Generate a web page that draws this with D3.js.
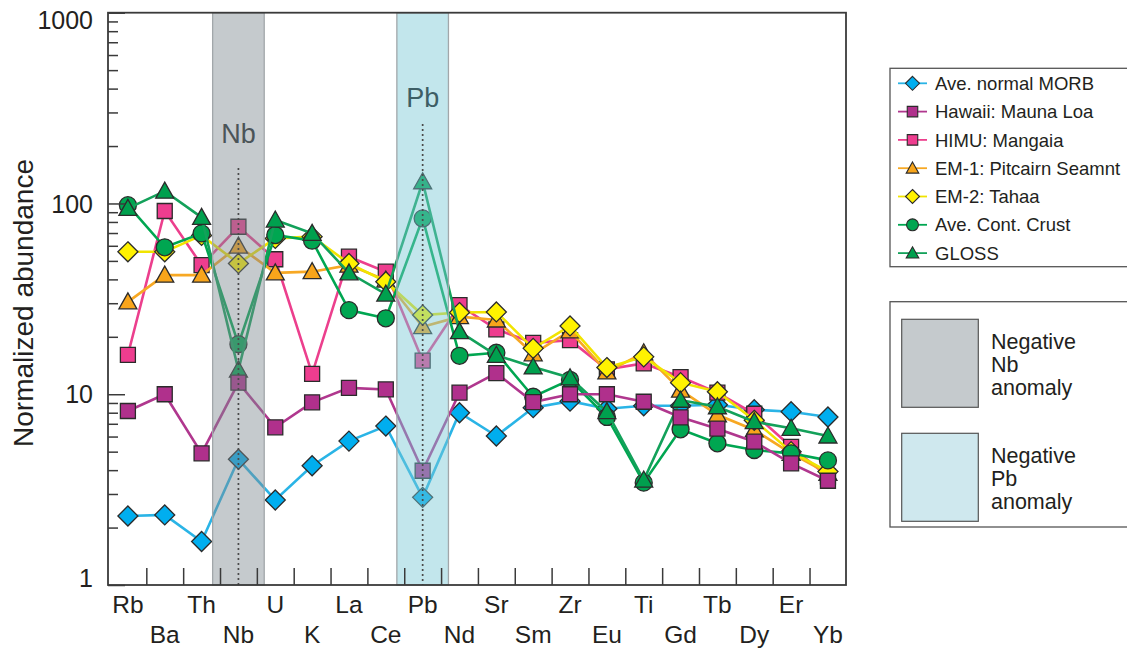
<!DOCTYPE html>
<html>
<head>
<meta charset="utf-8">
<script src="https://cdn.jsdelivr.net/npm/d3@7"></script>
<style>
  body { margin: 0; background: #fff; }
  svg { font-family: "Liberation Sans", Arial, Helvetica, sans-serif; }
</style>
</head>
<body>
<script>
// element order along x
const elements = ["Rb","Ba","Th","Nb","U","K","La","Ce","Pb","Nd","Sr","Sm","Zr","Eu","Ti","Gd","Tb","Dy","Er","Yb"];

// normalized abundances
const morb      = [2.3, 2.33, 1.69, 4.56, 2.79, 4.22, 5.68, 6.81, 2.88, 8.0, 6.04, 8.5, 9.2, 8.4, 8.7, 8.7, 8.8, 8.3, 8.1, 7.6];
const maunaLoa  = [8.17, 10.0, 4.9, 11.5, 6.71, 9.07, 10.8, 10.6, 3.97, 10.2, 12.9, 9.1, 10.0, 10.0, 9.13, 7.57, 6.6, 5.64, 4.34, 3.52];
const mangaia   = [16.1, 91.3, 47.5, 75.5, 51, 12.8, 52.6, 43.9, 15.0, 29.3, 21.9, 18.6, 19.2, 13.5, 14.5, 12.3, 10.2, 7.9, 5.3, 3.7];
const pitcairn  = [30.5, 42.1, 42.1, 59.8, 43.3, 43.9, 47.5, 39.7, 22.6, 25.5, 24.5, 16.3, 21.5, 13.1, 16.5, 10.5, 7.8, 6.5, 4.9, 3.85];
const tahaa     = [55.8, 55.8, 68, 48.5, 65.6, 67, 48.5, 38.9, 26, 26.8, 27.0, 17.4, 22.8, 13.8, 15.7, 11.5, 10.3, 7.3, 5.0, 3.93];
const contCrust = [98, 58.9, 69.7, 18.3, 68.3, 63.8, 27.6, 25.0, 83.5, 15.9, 16.5, 9.7, 11.9, 7.6, 3.44, 6.55, 5.53, 5.1, 4.9, 4.5];
const gloss     = [94.3, 116, 84.6, 13.4, 81.9, 69.7, 43.3, 33.5, 130, 21.3, 16.0, 13.9, 12.2, 8.1, 3.55, 9.3, 8.6, 7.18, 6.63, 6.04];

const yMajor = [1, 10, 100, 1000];
const anomalies = ["Nb", "Pb"];

// series table (legend order)
const series = [
  { name: "Ave. normal MORB",        values: morb,      shape: "diamond",  fill: "#00aeef", line: "#2ab4e6" },
  { name: "Hawaii: Mauna Loa",       values: maunaLoa,  shape: "square",   fill: "#b0308c", line: "#b0378e" },
  { name: "HIMU: Mangaia",           values: mangaia,   shape: "square",   fill: "#ee3d8f", line: "#ec3f8d" },
  { name: "EM-1: Pitcairn Seamnt",   values: pitcairn,  shape: "triangle", fill: "#f8a51b", line: "#f7a823" },
  { name: "EM-2: Tahaa",             values: tahaa,     shape: "diamond",  fill: "#fff200", line: "#f1e400" },
  { name: "Ave. Cont. Crust",        values: contCrust, shape: "circle",   fill: "#00a651", line: "#00a651" },
  { name: "GLOSS",                   values: gloss,     shape: "triangle", fill: "#00a04e", line: "#13a15a" }
];
// drawing order (which marker sits on top)
const drawOrder = [0, 2, 3, 4, 5, 6, 1];

const W = 1127, H = 650;
const mLeft = 108, mRight = 846, mTop = 12.7, mBottom = 585;

const svg = d3.select("body").append("svg")
  .attr("width", W)
  .attr("height", H);

const x = d3.scaleLinear().domain([-0.54, 19.49]).range([mLeft, mRight]);
const y = d3.scaleLog().domain([1, 1000]).range([mBottom, mTop]);

function shape(type, s) {
  if (type === "diamond") return `M0,${-s}L${s},0L0,${s}L${-s},0Z`;
  if (type === "square") { const h = s * 0.75; return `M${-h},${-h}H${h}V${h}H${-h}Z`; }
  if (type === "triangle") { const h = s * 0.9; return `M0,${-h}L${h},${h * 0.78}L${-h},${h * 0.78}Z`; }
  return d3.symbol(d3.symbolCircle, Math.PI * (s * 0.85) * (s * 0.85))();
}

// lines + markers
const line = d3.line().x((d, i) => x(i)).y(d => y(d));
drawOrder.forEach(k => {
  const s = series[k];
  const g = svg.append("g");
  g.append("path")
    .attr("d", line(s.values))
    .attr("fill", "none")
    .attr("stroke", s.line)
    .attr("stroke-width", 2.6);
  g.selectAll("path.mk")
    .data(s.values)
    .enter()
    .append("path")
    .attr("class", "mk")
    .attr("transform", (d, i) => `translate(${x(i)},${y(d)})`)
    .attr("d", shape(s.shape, 10))
    .attr("fill", s.fill)
    .attr("stroke", "#2b2b2b")
    .attr("stroke-width", 1.3);
});

// anomaly bands, drawn over the markers so they tint them
const bandColor = { Nb: "rgb(126,137,144)", Pb: "rgb(119,199,213)" };
anomalies.forEach(el => {
  const i = elements.indexOf(el);
  svg.append("rect")
    .attr("x", x(i - 0.7))
    .attr("y", mTop)
    .attr("width", x(i + 0.7) - x(i - 0.7))
    .attr("height", mBottom - mTop)
    .attr("fill", bandColor[el])
    .attr("fill-opacity", 0.45)
    .attr("stroke", "#a2a7aa")
    .attr("stroke-width", 1.3);
});

// dotted guides + band labels
const bandLabel = { Nb: { y: 143, lineTop: 168, color: "#4b5458" }, Pb: { y: 106.7, lineTop: 124, color: "#3d5e65" } };
anomalies.forEach(el => {
  const i = elements.indexOf(el);
  svg.append("line")
    .attr("x1", x(i)).attr("x2", x(i))
    .attr("y1", bandLabel[el].lineTop).attr("y2", mBottom)
    .attr("stroke", "#4a4a4a")
    .attr("stroke-width", 1.7)
    .attr("stroke-dasharray", "2,3");
  svg.append("text")
    .attr("x", x(i))
    .attr("y", bandLabel[el].y)
    .attr("text-anchor", "middle")
    .attr("font-size", 27)
    .attr("fill", bandLabel[el].color)
    .text(el);
});

// frame
svg.append("rect")
  .attr("x", mLeft).attr("y", mTop)
  .attr("width", mRight - mLeft).attr("height", mBottom - mTop)
  .attr("fill", "none")
  .attr("stroke", "#3a3a3a")
  .attr("stroke-width", 1.8);

// y axis: major + minor ticks pointing inward
const minor = [];
[1, 10, 100].forEach(b => { for (let m = 2; m <= 9; m++) minor.push(b * m); });

svg.append("g")
  .attr("transform", `translate(${mLeft},0)`)
  .call(d3.axisLeft(y).tickValues(minor).tickSize(-10).tickFormat(""))
  .call(g => g.select(".domain").remove())
  .selectAll("line").attr("stroke", "#3a3a3a").attr("stroke-width", 1.5);

const yAx = svg.append("g")
  .attr("transform", `translate(${mLeft},0)`)
  .call(d3.axisLeft(y).tickValues(yMajor).tickSize(-17).tickPadding(32).tickFormat(d3.format("d")));
yAx.select(".domain").remove();
yAx.selectAll("line").attr("stroke", "#3a3a3a").attr("stroke-width", 1.5);
yAx.selectAll("text")
  .attr("font-size", 25)
  .attr("font-family", "Liberation Sans, Arial, sans-serif")
  .attr("fill", "#231f20")
  .attr("x", -15)
  .attr("dy", d => d === 1000 ? "0.62em" : d === 1 ? "0.05em" : "0.35em");

svg.append("text")
  .attr("transform", `translate(33,303) rotate(-90)`)
  .attr("text-anchor", "middle")
  .attr("font-size", 28)
  .attr("fill", "#231f20")
  .text("Normalized abundance");

// x axis: ticks between elements, labels on two rows
const xTicks = d3.range(0, elements.length - 1).map(i => i + 0.5);
const xAx = svg.append("g")
  .attr("transform", `translate(0,${mBottom})`)
  .call(d3.axisBottom(x).tickValues(xTicks).tickSize(-17).tickFormat(""));
xAx.select(".domain").remove();
xAx.selectAll("line").attr("stroke", "#3a3a3a").attr("stroke-width", 1.5);

svg.selectAll("text.xl")
  .data(elements)
  .enter()
  .append("text")
  .attr("class", "xl")
  .attr("x", (d, i) => x(i))
  .attr("y", (d, i) => i % 2 === 0 ? 613 : 642.5)
  .attr("text-anchor", "middle")
  .attr("font-size", 24.5)
  .attr("fill", "#231f20")
  .text(d => d);

// legend: series
const lg = svg.append("g");
lg.append("rect")
  .attr("x", 890).attr("y", 68.3)
  .attr("width", 250).attr("height", 198.4)
  .attr("fill", "#fff")
  .attr("stroke", "#555")
  .attr("stroke-width", 1.3);

series.forEach((s, i) => {
  const yy = 83.3 + i * 28.3;
  lg.append("line")
    .attr("x1", 898).attr("x2", 927)
    .attr("y1", yy).attr("y2", yy)
    .attr("stroke", s.line)
    .attr("stroke-width", 1.8);
  lg.append("path")
    .attr("transform", `translate(912.5,${yy})`)
    .attr("d", shape(s.shape, 7))
    .attr("fill", s.fill)
    .attr("stroke", "#2b2b2b")
    .attr("stroke-width", 1.1);
  lg.append("text")
    .attr("x", 935).attr("y", yy)
    .attr("dy", "0.36em")
    .attr("font-size", 18.5)
    .attr("fill", "#231f20")
    .text(s.name);
});

// legend: anomaly swatches
const la = svg.append("g");
la.append("rect")
  .attr("x", 890).attr("y", 301.7)
  .attr("width", 250).attr("height", 225.3)
  .attr("fill", "#fff")
  .attr("stroke", "#555")
  .attr("stroke-width", 1.3);

const swatches = [
  { fill: "#c5cacd", y: 319.3, lines: ["Negative", "Nb", "anomaly"] },
  { fill: "#cfe8ee", y: 433.3, lines: ["Negative", "Pb", "anomaly"] }
];
swatches.forEach(sw => {
  la.append("rect")
    .attr("x", 901.7).attr("y", sw.y)
    .attr("width", 76.6).attr("height", 88)
    .attr("fill", sw.fill)
    .attr("stroke", "#555")
    .attr("stroke-width", 1.2);
  sw.lines.forEach((t, j) => {
    la.append("text")
      .attr("x", 991)
      .attr("y", sw.y + 30 + j * 23)
      .attr("font-size", 21.5)
      .attr("fill", "#231f20")
      .text(t);
  });
});
</script>
</body>
</html>
